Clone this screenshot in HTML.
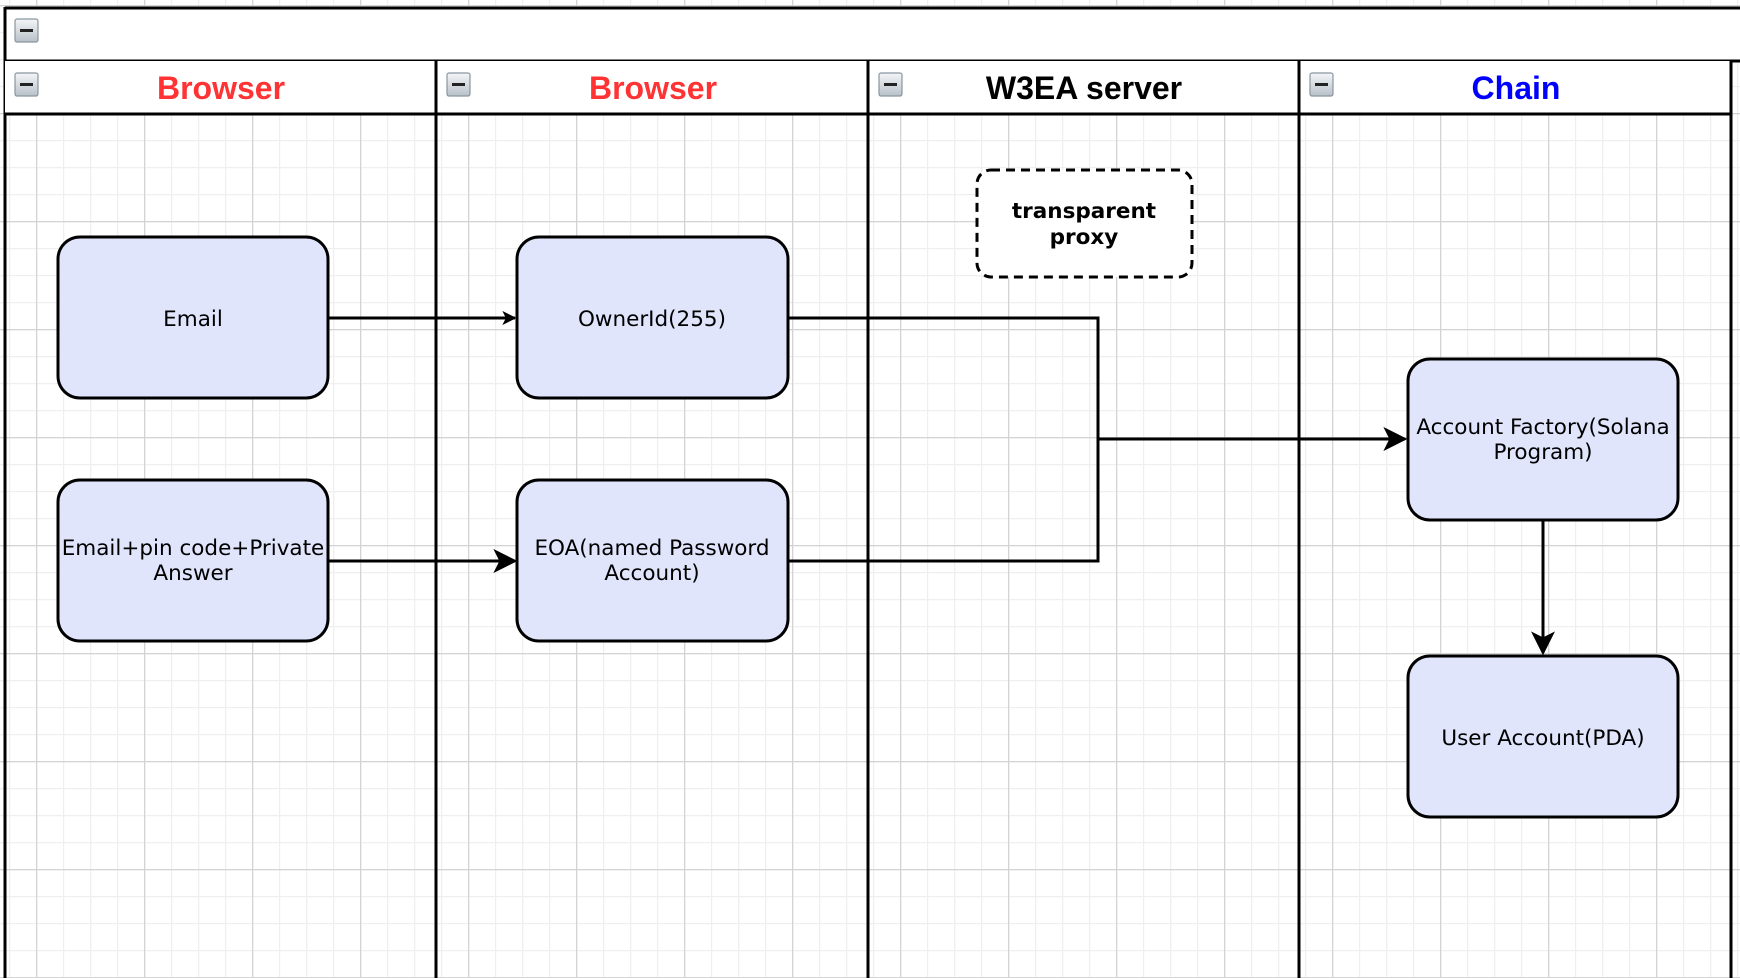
<!DOCTYPE html>
<html><head><meta charset="utf-8"><style>
html,body{margin:0;padding:0;background:#fff;}
body{width:1740px;height:978px;overflow:hidden;position:relative;}
svg{position:absolute;left:0;top:0;}
</style></head><body>
<svg width="1740" height="978" viewBox="0 0 1740 978" xmlns="http://www.w3.org/2000/svg">
<defs>
<pattern id="minor" x="9" y="5" width="27" height="27" patternUnits="userSpaceOnUse">
<path d="M0 0.5H27M0.5 0V27" stroke="#efefef" stroke-width="1.5" fill="none"/>
</pattern>
<pattern id="major" x="36" y="5" width="108" height="108" patternUnits="userSpaceOnUse">
<path d="M0 0.5H108M0.5 0V108" stroke="#d3d3d3" stroke-width="1.5" fill="none"/>
</pattern>
<linearGradient id="ig" x1="0" y1="0" x2="0" y2="1"><stop offset="0" stop-color="#f4f6f8"/><stop offset="1" stop-color="#b8c0c8"/></linearGradient>
<marker id="ah" viewBox="0 0 10 10" refX="9" refY="5" markerWidth="14" markerHeight="14" markerUnits="userSpaceOnUse" orient="auto"><path d="M0 0L10 5L0 10L2.5 5Z" fill="#000"/></marker>
<marker id="ahb" viewBox="0 0 10 10" refX="9" refY="5" markerWidth="24" markerHeight="24" markerUnits="userSpaceOnUse" orient="auto"><path d="M0 0L10 5L0 10L2.5 5Z" fill="#000"/></marker>
</defs>
<rect width="1740" height="978" fill="url(#minor)"/>
<rect width="1740" height="978" fill="url(#major)"/>
<rect x="5" y="8" width="1740" height="53" fill="#fff"/>
<line x1="5" y1="8" x2="1740" y2="8" stroke="#000" stroke-width="3"/>
<line x1="5" y1="61" x2="1740" y2="61" stroke="#000" stroke-width="3"/>
<line x1="5" y1="7" x2="5" y2="978" stroke="#000" stroke-width="3"/>
<rect x="5" y="61" width="1726" height="53" fill="#fff"/>
<line x1="5" y1="114" x2="1731" y2="114" stroke="#000" stroke-width="3"/>
<g stroke="#000" stroke-width="3">
<line x1="436" y1="61" x2="436" y2="978"/>
<line x1="868" y1="61" x2="868" y2="978"/>
<line x1="1299" y1="61" x2="1299" y2="978"/>
<line x1="1731" y1="61" x2="1731" y2="978"/>
</g>
<g>
<g transform="translate(15,19)"><rect x="0" y="0" width="23" height="23" rx="2" fill="url(#ig)" stroke="#8a96a0" stroke-width="1.2"/><rect x="5" y="10" width="13" height="3" fill="#222"/></g>
<g transform="translate(15,73)"><rect x="0" y="0" width="23" height="23" rx="2" fill="url(#ig)" stroke="#8a96a0" stroke-width="1.2"/><rect x="5" y="10" width="13" height="3" fill="#222"/></g>
<g transform="translate(447,73)"><rect x="0" y="0" width="23" height="23" rx="2" fill="url(#ig)" stroke="#8a96a0" stroke-width="1.2"/><rect x="5" y="10" width="13" height="3" fill="#222"/></g>
<g transform="translate(879,73)"><rect x="0" y="0" width="23" height="23" rx="2" fill="url(#ig)" stroke="#8a96a0" stroke-width="1.2"/><rect x="5" y="10" width="13" height="3" fill="#222"/></g>
<g transform="translate(1310,73)"><rect x="0" y="0" width="23" height="23" rx="2" fill="url(#ig)" stroke="#8a96a0" stroke-width="1.2"/><rect x="5" y="10" width="13" height="3" fill="#222"/></g>
</g>
<g font-family="Liberation Sans, Arial, sans-serif" font-weight="bold" font-size="32" text-anchor="middle">
<text x="221" y="99" fill="#ff3333">Browser</text>
<text x="653" y="99" fill="#ff3333">Browser</text>
<text x="1084" y="99" fill="#000">W3EA server</text>
<text x="1516" y="99" fill="#0000ff">Chain</text>
</g>
<g stroke="#000" stroke-width="3" fill="none">
<line x1="328" y1="318" x2="515" y2="318" marker-end="url(#ah)"/>
<line x1="328" y1="561" x2="515" y2="561" marker-end="url(#ahb)"/>
<polyline points="788,318 1098,318 1098,561 788,561"/>
<line x1="1098" y1="439" x2="1405" y2="439" marker-end="url(#ahb)"/>
<line x1="1543" y1="520" x2="1543" y2="653" marker-end="url(#ahb)"/>
</g>
<g fill="#e0e5fc" stroke="#000" stroke-width="3">
<rect x="58" y="237" width="270" height="161" rx="22"/>
<rect x="58" y="480" width="270" height="161" rx="22"/>
<rect x="517" y="237" width="271" height="161" rx="22"/>
<rect x="517" y="480" width="271" height="161" rx="22"/>
<rect x="1408" y="359" width="270" height="161" rx="22"/>
<rect x="1408" y="656" width="270" height="161" rx="22"/>
</g>
<rect x="977" y="170" width="215" height="107" rx="14" fill="#fff" stroke="#000" stroke-width="3" stroke-dasharray="9,6"/>
<g font-family="DejaVu Sans, Verdana, sans-serif" font-size="21.5" text-anchor="middle" fill="#000">
<text x="193" y="326">Email</text>
<text x="193" y="555">Email+pin code+Private</text>
<text x="193" y="580">Answer</text>
<text x="652" y="326">OwnerId(255)</text>
<text x="652" y="555">EOA(named Password</text>
<text x="652" y="580">Account)</text>
<text x="1543" y="434">Account Factory(Solana</text>
<text x="1543" y="459">Program)</text>
<text x="1543" y="745">User Account(PDA)</text>
<text x="1084" y="218" font-weight="bold">transparent</text>
<text x="1084" y="244" font-weight="bold">proxy</text>
</g>
</svg>
</body></html>
